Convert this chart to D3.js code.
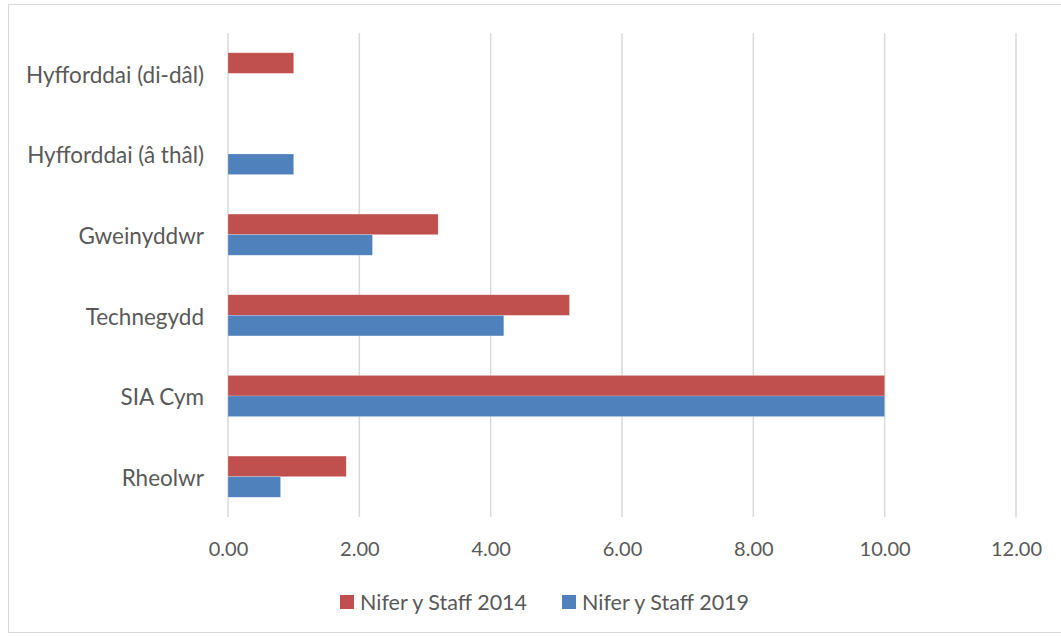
<!DOCTYPE html>
<html>
<head>
<meta charset="utf-8">
<script src="https://cdn.jsdelivr.net/npm/d3@7"></script>
<style>
  body { margin: 0; background: #fff; }
  svg { display: block; font-family: Lato, "Open Sans", sans-serif; }
</style>
</head>
<body>
<svg id="chart" width="1061" height="637"></svg>
<script>
// Data (bottom to top in the chart)
const categories = ["Rheolwr", "SIA Cym", "Technegydd", "Gweinyddwr", "Hyfforddai (â thâl)", "Hyfforddai (di-dâl)"];
const staff2014 = [1.8, 10, 5.2, 3.2, 0, 1];
const staff2019 = [0.8, 10, 4.2, 2.2, 1, 0];
const seriesNames = ["Nifer y Staff 2014", "Nifer y Staff 2019"];
const seriesColors = ["#C0504D", "#4F81BD"];
const xTicks = [0, 2, 4, 6, 8, 10, 12];

const CONFIG = {
  plot: { left: 228, right: 1016, top: 33, bottom: 517 },
  catFont: 22.5,
  tickFont: 20,
  legendFont: 21.5,
  textColor: "#595959",
  gridColor: "#D9D9D9"
};

const svg = d3.select("#chart");

// outer frame (right edge clipped like the reference)
svg.append("rect")
  .attr("x", 8.5).attr("y", 4.5)
  .attr("width", 1070).attr("height", 628)
  .attr("fill", "none").attr("stroke", "#D9D9D9");

const x = d3.scaleLinear().domain([0, 12]).range([CONFIG.plot.left, CONFIG.plot.right]);

// reversed so first category sits at the bottom
const y = d3.scaleBand()
  .domain(categories.slice().reverse())
  .range([CONFIG.plot.top, CONFIG.plot.bottom])
  .paddingInner(0.49)
  .paddingOuter(0.245);

const sub = d3.scaleBand().domain([0, 1]).range([0, y.bandwidth()]);

// gridlines
svg.append("g")
  .selectAll("line")
  .data(xTicks)
  .join("line")
  .attr("x1", d => x(d)).attr("x2", d => x(d))
  .attr("y1", CONFIG.plot.top).attr("y2", CONFIG.plot.bottom)
  .attr("stroke", CONFIG.gridColor).attr("stroke-width", 1.5);

// bars
const rows = categories.map((c, i) => ({ cat: c, values: [staff2014[i], staff2019[i]] }));
const groups = svg.append("g")
  .selectAll("g")
  .data(rows)
  .join("g")
  .attr("transform", d => `translate(0,${y(d.cat)})`);

groups.selectAll("rect")
  .data(d => d.values.map((v, j) => ({ v, j })))
  .join("rect")
  .attr("x", x(0))
  .attr("y", d => sub(d.j))
  .attr("width", d => x(d.v) - x(0))
  .attr("height", sub.bandwidth())
  .attr("fill", d => seriesColors[d.j])
  .attr("stroke", "#fff").attr("stroke-opacity", 0.35).attr("stroke-width", 0.6);

// x axis labels
const xAxis = svg.append("g")
  .attr("transform", `translate(0,${CONFIG.plot.bottom + 32})`)
  .call(d3.axisBottom(x).tickValues(xTicks).tickFormat(d3.format(".2f")).tickSize(0).tickPadding(0));
xAxis.select(".domain").remove();
xAxis.selectAll("text")
  .attr("dy", "0.35em")
  .attr("font-size", CONFIG.tickFont)
  .attr("font-family", "Lato, sans-serif")
  .attr("fill", CONFIG.textColor);

// y axis labels
const yAxis = svg.append("g")
  .attr("transform", `translate(${CONFIG.plot.left - 24},2)`)
  .call(d3.axisLeft(y).tickSize(0).tickPadding(0));
yAxis.select(".domain").remove();
yAxis.selectAll("text")
  .attr("font-size", CONFIG.catFont)
  .attr("font-family", "Lato, sans-serif")
  .attr("fill", CONFIG.textColor);

// legend
const legendX = [340, 562];
const legend = svg.append("g")
  .selectAll("g")
  .data(seriesNames)
  .join("g")
  .attr("transform", (d, i) => `translate(${legendX[i]},602)`);
legend.append("rect")
  .attr("x", 0).attr("y", -7)
  .attr("width", 14).attr("height", 14)
  .attr("fill", (d, i) => seriesColors[i]);
legend.append("text")
  .attr("x", 20).attr("dy", "0.35em")
  .attr("font-size", CONFIG.legendFont)
  .attr("fill", CONFIG.textColor)
  .text(d => d);
</script>
</body>
</html>
